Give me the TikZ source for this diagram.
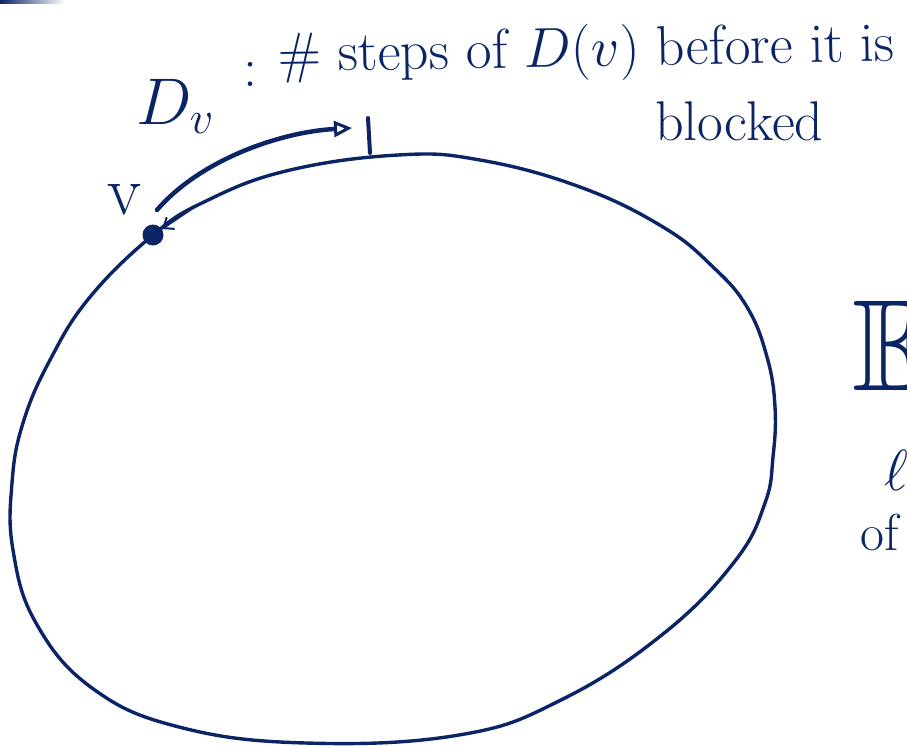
\RequirePackage{fix-cm}
\documentclass[tikz,border=0pt]{standalone}
\usepackage{amsmath}
\usepackage{amssymb}
\usetikzlibrary{arrows.meta}
\definecolor{inkblue}{HTML}{0A2466}

\begin{document}
\begin{tikzpicture}[x=1pt, y=-1pt,
    ink/.style={draw=inkblue, line width=3.4pt, line cap=round, line join=round},
    hand/.style={text=inkblue, inner sep=0pt, font=\fontsize{56}{60}\selectfont},
    vertex/.style={circle, fill=inkblue, inner sep=0pt, minimum size=21pt},
]
    \clip (0,0) rectangle (907,745);
    \useasboundingbox (0,0) rectangle (907,745);

    \shade[left color=inkblue, right color=white] (0,0) rectangle (65,3);

    % the closed walk
    \draw[ink] plot[smooth cycle, tension=0.7] coordinates {
        (398,155) (480,160) (580,187) (663,227) (713,267) (747,307)
        (767,357) (775,407) (773,457) (765,503) (735,561) (663,634)
        (561,700) (459,735) (306,743) (179,727) (92,688) (36,623)
        (13,550) (12,483) (23,423) (50,360) (90,297) (153,235)
        (204,202) (286,171)};

    \node[vertex] (v) at (153,235) {};
    \node[hand, font=\fontsize{70}{70}\selectfont, anchor=base] (vlab) at (124,214) {v};

    % steps of D(v)
    \coordinate (a0) at (157,210);
    \coordinate (a1) at (352,128);
    \draw[ink, line width=4.5pt,
          -{Triangle[open, length=18pt, width=16pt, line width=3pt]}]
        (a0) .. controls (200,160) and (280,132) .. (a1);
    \coordinate (b0) at (368,118);
    \coordinate (b1) at (370,153);
    \draw[ink, line width=4pt] (b0) -- (b1);

    \coordinate (t0) at (196,206);
    \draw[ink, line width=2pt, -{Straight Barb[length=9pt, width=14pt]}] (t0) -- (v);

    % labels
    \node[hand, font=\fontsize{66}{70}\selectfont, anchor=base west] (dv) at (136,124) {$D_v$};
    \node[hand, anchor=base] (colon) at (250,86) {:};
    \node[hand, anchor=base west, rotate=1] (def) at (278,72)
        {\# steps of $D(v)$ before it is};
    \node[hand, anchor=base west] (blk) at (655,140) {blocked};

    \node[hand, font=\fontsize{130}{130}\selectfont, anchor=base west] (ex) at (852,390) {$\mathbb{E}$};
    \node[hand, font=\fontsize{58}{60}\selectfont, anchor=base west] (ell) at (884,490) {$\ell$};
    \node[hand, font=\fontsize{52}{56}\selectfont, anchor=base west] (of) at (860,550) {of};
\end{tikzpicture}
\end{document}
